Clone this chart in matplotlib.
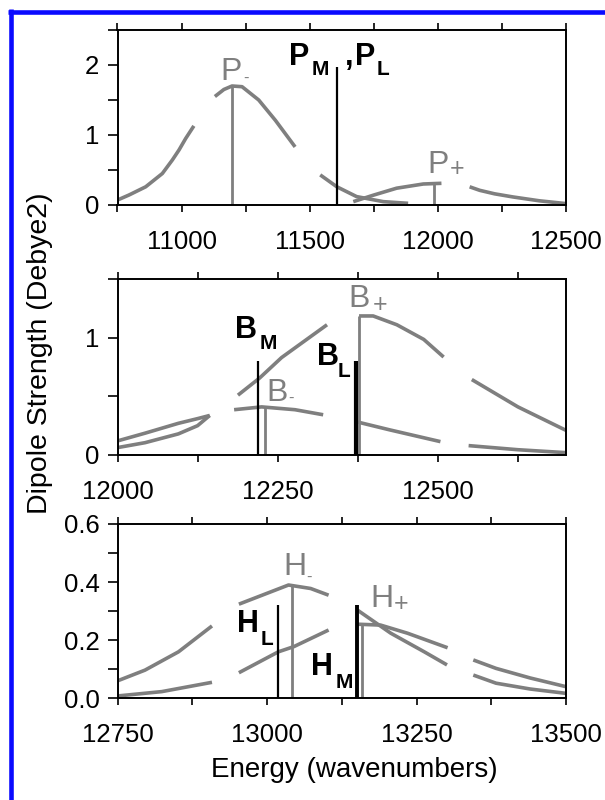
import matplotlib
matplotlib.use("Agg")
import matplotlib.pyplot as plt
from matplotlib.lines import Line2D
from matplotlib.ticker import MultipleLocator, FormatStrFormatter

plt.rcParams['font.family'] = ['Liberation Sans', 'DejaVu Sans']

GREY = '#7f7f7f'
BLACK = '#000000'

# ---------------- Panel 1 (P) ----------------
p_curve1_x = [10750, 10795, 10860, 10925, 10964, 10990, 11016, 11048]
p_curve1_y = [0.071, 0.143, 0.26, 0.45, 0.643, 0.786, 0.95, 1.13]
p_curve2_x = [11130, 11165, 11197, 11236, 11301, 11366, 11443]
p_curve2_y = [1.55, 1.65, 1.70, 1.69, 1.50, 1.21, 0.83]
p_curve3_x = [11541, 11606, 11683, 11787, 11884]
p_curve3_y = [0.43, 0.26, 0.12, 0.048, 0.024]
p_curve4_x = [11670, 11748, 11839, 11943, 12014]
p_curve4_y = [0.048, 0.14, 0.24, 0.30, 0.31]
p_curve5_x = [12124, 12163, 12221, 12293, 12396, 12500]
p_curve5_y = [0.26, 0.21, 0.16, 0.115, 0.06, 0.02]
p_grey_sticks_x = [11197, 11984]
p_grey_sticks_y = [1.70, 0.31]
p_black_sticks_x = [11606]
p_black_sticks_y = [1.976]

# ---------------- Panel 2 (B) ----------------
b_curves = [
    ([12000, 12043, 12095, 12125, 12144], [0.12, 0.186, 0.27, 0.31, 0.337]),
    ([12000, 12043, 12095, 12125, 12144], [0.063, 0.105, 0.18, 0.25, 0.337]),
    ([12188, 12222, 12256, 12327], [0.51, 0.657, 0.83, 1.11]),
    ([12182, 12225, 12277, 12321], [0.386, 0.41, 0.386, 0.343]),
    ([12377, 12399, 12436, 12478, 12509], [1.185, 1.185, 1.11, 0.985, 0.835]),
    ([12371, 12425, 12504], [0.286, 0.214, 0.114]),
    ([12553, 12625, 12700], [0.643, 0.41, 0.21]),
    ([12548, 12625, 12700], [0.08, 0.045, 0.02]),
]
b_grey_sticks_x = [12230, 12377]
b_grey_sticks_y = [0.41, 1.185]
b_black_sticks_x = [12220, 12373]
b_black_sticks_y = [0.805, 0.80]
b_black_sticks_w = [1.6, 3.0]

# ---------------- Panel 3 (H) ----------------
h_curves = [
    ([12750, 12796, 12852, 12908], [0.06, 0.097, 0.16, 0.249]),
    ([12750, 12824, 12908], [0.008, 0.023, 0.055]),
    ([12953, 12992, 13036, 13073, 13103], [0.324, 0.355, 0.39, 0.378, 0.355]),
    ([12953, 13019, 13045, 13103], [0.088, 0.16, 0.178, 0.235]),
    ([13151, 13207, 13263, 13301], [0.304, 0.224, 0.16, 0.115]),
    ([13152, 13190, 13235, 13302], [0.255, 0.252, 0.224, 0.174]),
    ([13345, 13383, 13440, 13500], [0.132, 0.103, 0.07, 0.04]),
    ([13345, 13383, 13440, 13500], [0.08, 0.052, 0.032, 0.017]),
]
h_grey_sticks_x = [13041, 13159]
h_grey_sticks_y = [0.39, 0.255]
h_black_sticks_x = [13019, 13150]
h_black_sticks_y = [0.321, 0.321]
h_black_sticks_w = [1.6, 2.8]

# ---------------- Figure ----------------
fig = plt.figure(figsize=(6.05, 8.0), dpi=100)
L, W = 117.5 / 605, (566 - 117.5) / 605
ax1 = fig.add_axes([L, 1 - 205 / 800, W, 175 / 800])
ax2 = fig.add_axes([L, 1 - 455 / 800, W, 176 / 800])
ax3 = fig.add_axes([L, 1 - 698.3 / 800, W, 174.3 / 800])

CURVE_LW = 2.6
STICK_LW = 2.0


def style(ax, xlim, ylim, xmaj, xmin, ymaj, ymin, yfmt):
    ax.set_xlim(*xlim)
    ax.set_ylim(*ylim)
    ax.xaxis.set_major_locator(MultipleLocator(xmaj))
    ax.xaxis.set_minor_locator(MultipleLocator(xmin))
    ax.yaxis.set_major_locator(MultipleLocator(ymaj))
    ax.yaxis.set_minor_locator(MultipleLocator(ymin))
    ax.yaxis.set_major_formatter(FormatStrFormatter(yfmt))
    ax.tick_params(axis='x', which='both', direction='out', top=True, bottom=True,
                   length=5, width=1.2, pad=13, labelsize=18.5)
    ax.tick_params(axis='y', which='both', direction='out', left=True, right=False,
                   length=7, width=1.2, pad=6, labelsize=18.5)
    for s in ax.spines.values():
        s.set_linewidth(1.4)


# Panel 1
for xs, ys in [(p_curve1_x, p_curve1_y), (p_curve2_x, p_curve2_y), (p_curve3_x, p_curve3_y),
               (p_curve4_x, p_curve4_y), (p_curve5_x, p_curve5_y)]:
    ax1.plot(xs, ys, color=GREY, lw=CURVE_LW, solid_capstyle='butt')
ax1.vlines(p_grey_sticks_x, 0, p_grey_sticks_y, color=GREY, lw=STICK_LW)
ax1.vlines(p_black_sticks_x, 0, p_black_sticks_y, color=BLACK, lw=1.6)
style(ax1, (10750, 12500), (0, 2.5), 500, 250, 1, 0.5, '%d')

# Panel 2
for xs, ys in b_curves:
    ax2.plot(xs, ys, color=GREY, lw=CURVE_LW, solid_capstyle='butt')
ax2.vlines(b_grey_sticks_x, 0, b_grey_sticks_y, color=GREY, lw=STICK_LW)
for x, y, w in zip(b_black_sticks_x, b_black_sticks_y, b_black_sticks_w):
    ax2.vlines(x, 0, y, color=BLACK, lw=w)
style(ax2, (12000, 12700), (0, 1.5), 250, 125, 1, 0.5, '%d')

# Panel 3
for xs, ys in h_curves:
    ax3.plot(xs, ys, color=GREY, lw=CURVE_LW, solid_capstyle='butt')
ax3.vlines(h_grey_sticks_x, 0, h_grey_sticks_y, color=GREY, lw=STICK_LW)
for x, y, w in zip(h_black_sticks_x, h_black_sticks_y, h_black_sticks_w):
    ax3.vlines(x, 0, y, color=BLACK, lw=w)
style(ax3, (12750, 13500), (0, 0.6), 250, 125, 0.2, 0.1, '%.1f')

# ---------------- Labels ----------------
BIG, SUB = 22, 15
GBIG = 23


def blk(ax, x, y, s, size=BIG):
    ax.text(x, y, s, color=BLACK, fontsize=size, fontweight='bold', ha='left', va='baseline')


def gry(ax, x, y, s, size=GBIG):
    ax.text(x, y, s, color=GREY, fontsize=size, ha='left', va='baseline')


def gsub(ax, x, y, s, size):
    ax.text(x, y, s, color=GREY, fontsize=size, ha='center', va='center')


# P labels
gry(ax1, 11152, 1.786, 'P')
gsub(ax1, 11253, 1.81, '-', 12)
blk(ax1, 11420, 2.0, 'P')
blk(ax1, 11506, 1.857, 'M', SUB)
blk(ax1, 11639, 2.0, ',')
blk(ax1, 11677, 2.0, 'P')
blk(ax1, 11763, 1.857, 'L', SUB)
gry(ax1, 11961, 0.457, 'P')
gsub(ax1, 12075, 0.514, '+', 18)

# B labels
blk(ax2, 12183, 1.0, 'B')
blk(ax2, 12222, 0.90, 'M', SUB)
gry(ax2, 12233, 0.463, 'B')
gsub(ax2, 12271, 0.48, '-', 12)
blk(ax2, 12311, 0.771, 'B')
blk(ax2, 12344, 0.668, 'L', SUB)
gry(ax2, 12360, 1.26, 'B')
gsub(ax2, 12410, 1.277, '+', 18)

# H labels
gry(ax3, 13027, 0.424, 'H')
gsub(ax3, 13071, 0.417, '-', 12)
blk(ax3, 12950, 0.228, 'H')
blk(ax3, 12989, 0.183, 'L', SUB)
blk(ax3, 13073, 0.080, 'H')
blk(ax3, 13115, 0.035, 'M', SUB)
gry(ax3, 13173, 0.314, 'H')
gsub(ax3, 13224, 0.324, '+', 18)

# Axis titles
fig.text(40 / 605, 1 - 353 / 800, 'Dipole Strength (Debye2)', rotation=90,
         ha='center', va='center', fontsize=20.5)
fig.text(354 / 605, 1 - 770 / 800, 'Energy (wavenumbers)', ha='center', va='center',
         fontsize=20)

# Blue frame
fig.add_artist(Line2D([10.5 / 605, 10.5 / 605], [1 - 9 / 800, 0], transform=fig.transFigure,
                      color='#0a0aff', lw=3.3, solid_capstyle='butt'))
fig.add_artist(Line2D([8 / 605, 1], [1 - 11.5 / 800, 1 - 11.5 / 800], transform=fig.transFigure,
                      color='#0a0aff', lw=3.3, solid_capstyle='butt'))

fig.savefig('out.png', dpi=100)
